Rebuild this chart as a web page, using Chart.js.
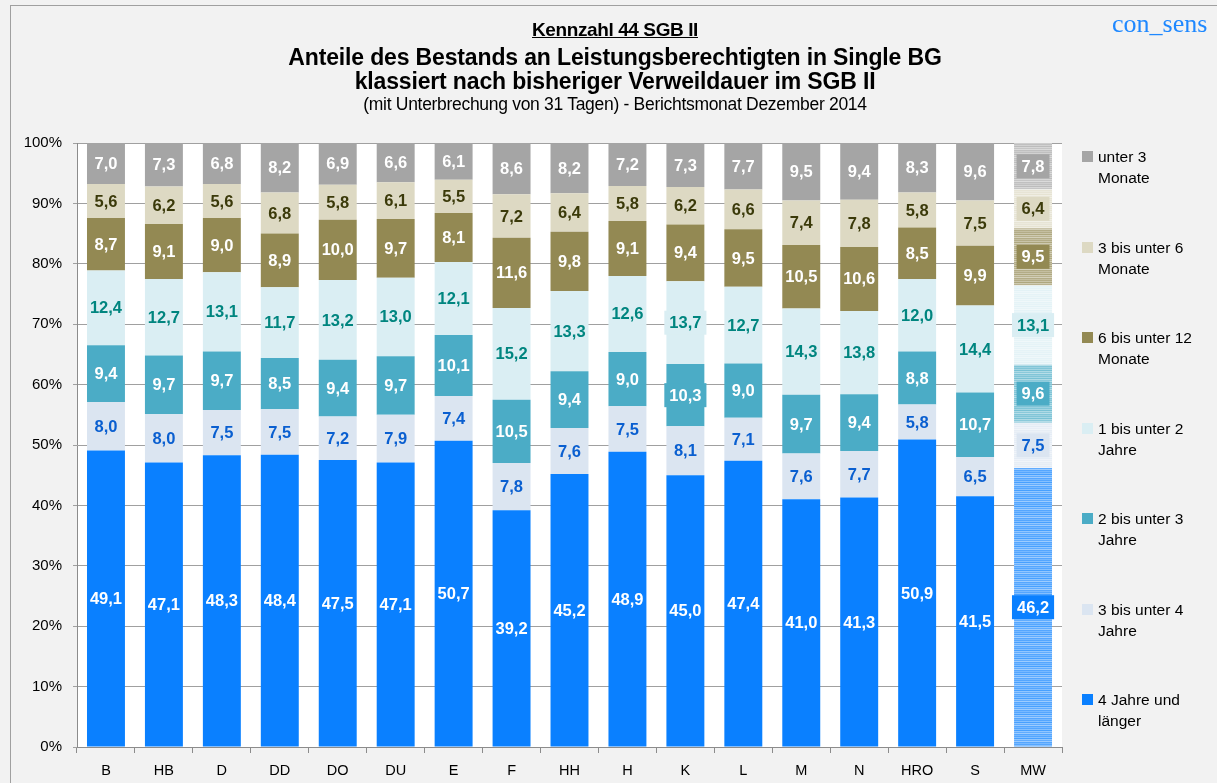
<!DOCTYPE html>
<html>
<head>
<meta charset="utf-8">
<script src="https://cdn.jsdelivr.net/npm/chart.js@4.4.0/dist/chart.umd.min.js"></script>
<style>
  html, body { margin: 0; padding: 0; background: #f2f2f2; }
  #wrap { position: relative; width: 1217px; height: 783px; overflow: hidden; background: #f2f2f2; font-family: "Liberation Sans", Arial, sans-serif; }
  #frame { position: absolute; left: 10px; top: 5px; width: 1300px; height: 900px; border-left: 1px solid #a0a0a0; border-top: 1px solid #a0a0a0; }
  canvas { position: absolute; left: 0; top: 0; }
  .t { position: absolute; left: 0; width: 1230px; text-align: center; color: #000; white-space: nowrap; }
  #t1 { top: 19px; font-size: 19px; font-weight: bold; text-decoration: underline; letter-spacing: -0.4px; }
  #t2 { top: 44px; font-size: 23px; font-weight: bold; letter-spacing: -0.15px; }
  #t3 { top: 68px; font-size: 23px; font-weight: bold; letter-spacing: -0.15px; }
  #t4 { top: 94px; font-size: 17.5px; letter-spacing: -0.3px; }
  #brand { position: absolute; left: 1112px; top: 9px; font-family: "Liberation Serif", "DejaVu Serif", serif; font-size: 26px; color: #1e88ff; }
  .lg { position: absolute; left: 1082px; font-size: 15.5px; line-height: 21px; color: #000; }
  .lg span.sq { position: absolute; left: 0; top: 5px; width: 11px; height: 11px; }
  .lg div { padding-left: 16px; }
</style>
</head>
<body>
<div id="wrap">
  <div id="frame"></div>
  <canvas id="c" width="1217" height="783"></canvas>
  <div class="t" id="t1">Kennzahl 44 SGB II</div>
  <div class="t" id="t2">Anteile des Bestands an Leistungsberechtigten in Single BG</div>
  <div class="t" id="t3">klassiert nach bisheriger Verweildauer im SGB II</div>
  <div class="t" id="t4">(mit Unterbrechung von 31 Tagen) - Berichtsmonat Dezember 2014</div>
  <div id="brand">con_sens</div>
  <div id="legend"></div>
</div>
<script>
// ---- data ----
const categories = ["B","HB","D","DD","DO","DU","E","F","HH","H","K","L","M","N","HRO","S","MW"];
const seriesNames = ["4 Jahre und länger","3 bis unter 4 Jahre","2 bis unter 3 Jahre","1 bis unter 2 Jahre","6 bis unter 12 Monate","3 bis unter 6 Monate","unter 3 Monate"];
const legendLines = [["4 Jahre und","länger"],["3 bis unter 4","Jahre"],["2 bis unter 3","Jahre"],["1 bis unter 2","Jahre"],["6 bis unter 12","Monate"],["3 bis unter 6","Monate"],["unter 3","Monate"]];
const years4plus   = [49.1,47.1,48.3,48.4,47.5,47.1,50.7,39.2,45.2,48.9,45.0,47.4,41.0,41.3,50.9,41.5,46.2];
const years3to4    = [8.0,8.0,7.5,7.5,7.2,7.9,7.4,7.8,7.6,7.5,8.1,7.1,7.6,7.7,5.8,6.5,7.5];
const years2to3    = [9.4,9.7,9.7,8.5,9.4,9.7,10.1,10.5,9.4,9.0,10.3,9.0,9.7,9.4,8.8,10.7,9.6];
const years1to2    = [12.4,12.7,13.1,11.7,13.2,13.0,12.1,15.2,13.3,12.6,13.7,12.7,14.3,13.8,12.0,14.4,13.1];
const months6to12  = [8.7,9.1,9.0,8.9,10.0,9.7,8.1,11.6,9.8,9.1,9.4,9.5,10.5,10.6,8.5,9.9,9.5];
const months3to6   = [5.6,6.2,5.6,6.8,5.8,6.1,5.5,7.2,6.4,5.8,6.2,6.6,7.4,7.8,5.8,7.5,6.4];
const monthsUnder3 = [7.0,7.3,6.8,8.2,6.9,6.6,6.1,8.6,8.2,7.2,7.3,7.7,9.5,9.4,8.3,9.6,7.8];
const yTicks = [0,10,20,30,40,50,60,70,80,90,100];

const seriesData = [years4plus, years3to4, years2to3, years1to2, months6to12, months3to6, monthsUnder3];
const colors = ["#0a80ff","#dbe5f1","#4bacc6","#daeef3","#938953","#ddd9c3","#a5a5a5"];
const labelColors = ["#ffffff","#0a5fd0","#ffffff","#00857f","#ffffff","#3b3a0a","#ffffff"];
const boxed = {"MW":[0,1,2,3,4,5,6], "K":[2,3]};

function hexToRgb(h){h=h.replace('#','');return [parseInt(h.substr(0,2),16),parseInt(h.substr(2,2),16),parseInt(h.substr(4,2),16)];}
function mix(h,f){const c=hexToRgb(h);return 'rgb('+c.map(v=>Math.round(v+(255-v)*f)).join(',')+')';}
function stripes(h){
  const cv=document.createElement('canvas');cv.width=4;cv.height=8;const x=cv.getContext('2d');
  const f=[0.3,0.5,0.25,0.55,0.35,0.6,0.3,0.45];
  for(let i=0;i<8;i++){x.fillStyle=mix(h,f[i]);x.fillRect(0,i,4,1);}
  return document.getElementById('c').getContext('2d').createPattern(cv,'repeat');
}

// legend (HTML)
const lg=document.getElementById('legend');
for(let k=6;k>=0;k--){
  const row=6-k;
  const d=document.createElement('div');d.className='lg';d.style.top=(146+row*90.5)+'px';
  d.innerHTML='<span class="sq" style="background:'+colors[k]+'"></span><div>'+legendLines[k][0]+'<br>'+legendLines[k][1]+'</div>';
  lg.appendChild(d);
}

const datasets = seriesData.map((arr,k)=>({
  label: seriesNames[k],
  data: arr,
  backgroundColor: categories.map(c=> c==="MW" ? stripes(colors[k]) : colors[k]),
  borderWidth: 0,
  categoryPercentage: 1.0,
  barPercentage: 0.655
}));

const bgPlugin = {
  id:'bg',
  beforeDraw(chart){
    const {ctx, chartArea:a}=chart;
    ctx.save();ctx.fillStyle='#ffffff';ctx.fillRect(a.left,a.top,a.right-a.left,a.bottom-a.top);ctx.restore();
  }
};
const labelPlugin = {
  id:'labels',
  afterDatasetsDraw(chart){
    const ctx=chart.ctx;
    ctx.save();
    ctx.font='bold 16.5px "Liberation Sans", Arial, sans-serif';
    ctx.textAlign='center';ctx.textBaseline='middle';
    chart.data.datasets.forEach((ds,k)=>{
      const meta=chart.getDatasetMeta(k);
      meta.data.forEach((el,i)=>{
        const v=ds.data[i];
        const txt=v.toFixed(1).replace('.',',');
        const top=Math.max(el.y, chart.chartArea.top);
        const cy=(top+el.base)/2;
        const cat=categories[i];
        if(boxed[cat] && boxed[cat].includes(k)){
          const w=ctx.measureText(txt).width+10;
          ctx.fillStyle=colors[k];
          ctx.fillRect(el.x-w/2,cy-12,w,24);
        }
        ctx.fillStyle=labelColors[k];
        ctx.fillText(txt,el.x,cy+1);
      });
    });
    ctx.restore();
  }
};

new Chart(document.getElementById('c'),{
  type:'bar',
  data:{labels:categories,datasets},
  options:{
    responsive:false,animation:false,
    layout:{padding:{top:143,right:155,left:0,bottom:0}},
    plugins:{legend:{display:false},tooltip:{enabled:false}},
    scales:{
      x:{
        stacked:true,
        grid:{offset:true,drawOnChartArea:false,color:'#8c8c8c',tickLength:6,drawTicks:true},
        border:{color:'#8c8c8c'},
        ticks:{color:'#000',font:{family:'"Liberation Sans", Arial, sans-serif',size:14.5},padding:9,maxRotation:0},
        afterFit(s){s.height=36;}
      },
      y:{
        stacked:true,min:0,max:100,
        afterBuildTicks(s){s.ticks=yTicks.map(v=>({value:v}));},
        grid:{color:'#a0a0a0',tickLength:4},
        border:{color:'#8c8c8c'},
        ticks:{color:'#000',font:{family:'"Liberation Sans", Arial, sans-serif',size:15},padding:11,callback:v=>v+'%'},
        afterFit(s){s.width=77;}
      }
    }
  },
  plugins:[bgPlugin,labelPlugin]
});
</script>
</body>
</html>
